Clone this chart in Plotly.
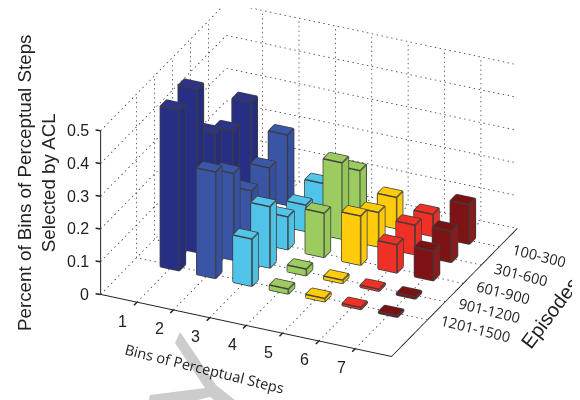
import plotly.graph_objects as go

bins = [1, 2, 3, 4, 5, 6, 7]
episode_positions = [1, 2, 3, 4, 5]
episode_labels = ["100-300", "301-600", "601-900", "901-1200", "1201-1500"]
z_ticks = [0, 0.1, 0.2, 0.3, 0.4, 0.5]
z_tick_text = ["0", "0.1", "0.2", "0.3", "0.4", "0.5"]

# one list per bin, ordered by episode position 1..5 (back to front)
bin1 = [0.29, 0.26, 0.307, 0.498, 0.49]
bin2 = [0.215, 0.17, 0.156, 0.265, 0.325]
bin3 = [0.09, 0.08, 0.10, 0.187, 0.144]
bin4 = [0.153, 0.233, 0.135, 0.02, 0.015]
bin5 = [0.095, 0.105, 0.15, 0.01, 0.01]
bin6 = [0.067, 0.09, 0.086, 0.006, 0.006]
bin7 = [0.12, 0.095, 0.09, 0.006, 0.005]
series = [bin1, bin2, bin3, bin4, bin5, bin6, bin7]

front_colors = ["#272f84", "#3a55a6", "#4fc4e8", "#9ccb5f", "#ffcb0b", "#ee3026", "#7e1315"]
side_colors = ["#262d7c", "#34509f", "#4fc0e0", "#97c65a", "#fcc80a", "#ea2e24", "#8a1a1c"]
top_colors = ["#2c3388", "#3b57aa", "#52c6ea", "#9ccb5f", "#ffcc0a", "#ef3127", "#7a1214"]

HALF_X = 0.26
HALF_Y = 0.17
X_RANGE = [0, 8]
Y_RANGE = [7, 0]
Z_RANGE = [0, 0.5]
EDGE = "#3c3c3c"
GRID = "#333333"
EYE = 4
PX = 183.0
SHIFT_H = 10.0
SHIFT_V = 26.0
PAGE_OFFSET = 8  # the page's body margin moves the whole figure by this many pixels

fig = go.Figure()

gx, gy, gz = [], [], []


def dotted(p, q, count):
    for n in range(count):
        a = n / count
        b = (n + 0.3) / count
        gx.extend([p[0] + (q[0] - p[0]) * a, p[0] + (q[0] - p[0]) * b, None])
        gy.extend([p[1] + (q[1] - p[1]) * a, p[1] + (q[1] - p[1]) * b, None])
        gz.extend([p[2] + (q[2] - p[2]) * a, p[2] + (q[2] - p[2]) * b, None])


for xv in bins:
    dotted((xv, Y_RANGE[0], 0), (xv, 0, 0), 36)
    dotted((xv, 0, 0), (xv, 0, 0.5), 36)
for yv in episode_positions:
    dotted((X_RANGE[1], yv, 0), (0, yv, 0), 60)
    dotted((0, yv, 0), (0, yv, 0.5), 36)
for zv in z_ticks:
    dotted((0, Y_RANGE[0], zv), (0, 0, zv), 36)
    dotted((0, 0, zv), (X_RANGE[1], 0, zv), 60)
fig.add_trace(go.Scatter3d(x=gx, y=gy, z=gz, mode="lines", hoverinfo="skip", showlegend=False,
                           line=dict(color=GRID, width=1.5)))

CUBE = [(0, 1, 2), (0, 2, 3), (4, 5, 6), (4, 6, 7), (0, 1, 5), (0, 5, 4),
        (1, 2, 6), (1, 6, 5), (2, 3, 7), (2, 7, 6), (3, 0, 4), (3, 4, 7)]
ROLE = ["b", "b", "t", "t", "f", "f", "s", "s", "k", "k", "k", "k"]
EDGES = [(0, 1), (1, 2), (2, 3), (3, 0), (4, 5), (5, 6), (6, 7), (7, 4), (0, 4), (1, 5), (2, 6), (3, 7)]

for b, vals, fc, sc, tc in zip(bins, series, front_colors, side_colors, top_colors):
    X, Y, Z, I, J, K, C = [], [], [], [], [], [], []
    lx, ly, lz = [], [], []
    for e, h in zip(episode_positions, vals):
        n = len(X)
        corners = [(b - HALF_X, e + HALF_Y), (b + HALF_X, e + HALF_Y), (b + HALF_X, e - HALF_Y), (b - HALF_X, e - HALF_Y)]
        pts = [(cx, cy, 0) for cx, cy in corners] + [(cx, cy, h) for cx, cy in corners]
        for px, py, pz in pts:
            X.append(px); Y.append(py); Z.append(pz)
        for (a, c, d), r in zip(CUBE, ROLE):
            I.append(n + a); J.append(n + c); K.append(n + d)
            C.append({"t": tc, "f": fc, "s": sc}.get(r, fc))
        for a, c in EDGES:
            lx += [pts[a][0], pts[c][0], None]
            ly += [pts[a][1], pts[c][1], None]
            lz += [pts[a][2], pts[c][2], None]
    fig.add_trace(go.Mesh3d(x=X, y=Y, z=Z, i=I, j=J, k=K, facecolor=C, flatshading=True, hoverinfo="skip",
                            showscale=False, lighting=dict(ambient=1, diffuse=0, specular=0, roughness=1, fresnel=0)))
    fig.add_trace(go.Scatter3d(x=lx, y=ly, z=lz, mode="lines", hoverinfo="skip", showlegend=False,
                               line=dict(color=EDGE, width=3)))

tickfont = dict(family="Liberation Sans", size=16, color="#222222")
epfont = dict(family="Open Sans", size=14.5, color="#222222")
common = dict(showgrid=False, showbackground=False, zeroline=False, showspikes=False, showline=True,
              linecolor="#222222", linewidth=2, ticks="", showticklabels=False, title=dict(text=""))
tick_style = dict(showarrow=True, arrowhead=0, arrowwidth=1.5, arrowcolor="#222222", text=" ")

tick_notes = []
for b in bins:
    tick_notes.append(dict(x=b, y=7, z=0, ax=-6, ay=6, **tick_style))
    tick_notes.append(dict(x=b, y=7, z=0, text=str(b), showarrow=False, xshift=-14, yshift=-19, font=tickfont))
for e, label in zip(episode_positions, episode_labels):
    tick_notes.append(dict(x=8, y=e, z=0, ax=8, ay=1, **tick_style))
    tick_notes.append(dict(x=8, y=e, z=0, text=label, showarrow=False, textangle=14, xanchor="left", xshift=9, yshift=-9, font=epfont))
for zv, label in zip(z_ticks, z_tick_text):
    tick_notes.append(dict(x=0, y=7, z=zv, ax=-8, ay=-1, **tick_style))
    tick_notes.append(dict(x=0, y=7, z=zv, text=label, showarrow=False, xanchor="right", xshift=-10, yshift=0, font=tickfont))

dirx, diry, dirz = 0.368, -0.804, 0.466
cx0 = -0.909 * SHIFT_H / PX
cy0 = -0.416 * SHIFT_H / PX
cz0 = -SHIFT_V / (PX * 0.885)


def paper_x(px):
    return (px - PAGE_OFFSET) / 580


def paper_y(py):
    return 1 - (py - PAGE_OFFSET) / 400


outline = [("M", 175, 343), ("L", 180, 332), ("L", 216, 385), ("L", 245, 408), ("L", 225, 408),
           ("L", 210, 397), ("L", 165, 408), ("L", 147, 408), ("L", 150, 395), ("L", 205, 388)]

fig.update_layout(
    width=580, height=400, margin=dict(l=0, r=0, t=0, b=0), paper_bgcolor="white", showlegend=False,
    scene=dict(
        domain=dict(x=[0, 1], y=[0, 1]),
        aspectmode="manual", aspectratio=dict(x=1.60, y=1.51, z=0.925),
        camera=dict(eye=dict(x=cx0 + dirx * EYE, y=cy0 + diry * EYE, z=cz0 + dirz * EYE), up=dict(x=0, y=0, z=1),
                    center=dict(x=cx0, y=cy0, z=cz0),
                    projection=dict(type="orthographic")),
        xaxis=dict(range=X_RANGE, **common),
        yaxis=dict(range=Y_RANGE, **common),
        zaxis=dict(range=Z_RANGE, **common),
        annotations=tick_notes,
    ),
    annotations=[
        dict(text="Percent of Bins of Perceptual Steps<br>Selected by ACL", x=paper_x(36), y=paper_y(183), xref="paper", yref="paper",
             xanchor="center", yanchor="middle",
             showarrow=False, textangle=-90, font=dict(family="Liberation Sans", size=18.8, color="#222222")),
        dict(text="Bins of Perceptual Steps", x=paper_x(204), y=paper_y(368), xref="paper", yref="paper",
             xanchor="center", yanchor="middle",
             showarrow=False, textangle=14, font=dict(family="Open Sans", size=14.5, color="#222222")),
        dict(text="Episodes", x=paper_x(550), y=paper_y(313), xref="paper", yref="paper",
             xanchor="center", yanchor="middle",
             showarrow=False, textangle=-53, font=dict(family="Liberation Sans", size=20, color="#222222")),
    ],
    shapes=[dict(type="path", xref="paper", yref="paper", layer="below", fillcolor="#cccccc", line=dict(width=0),
                 path=" ".join(f"{c}{paper_x(px):.4f},{paper_y(py):.4f}" for c, px, py in outline) + " Z")],
)
fig.write_html("out.html")
